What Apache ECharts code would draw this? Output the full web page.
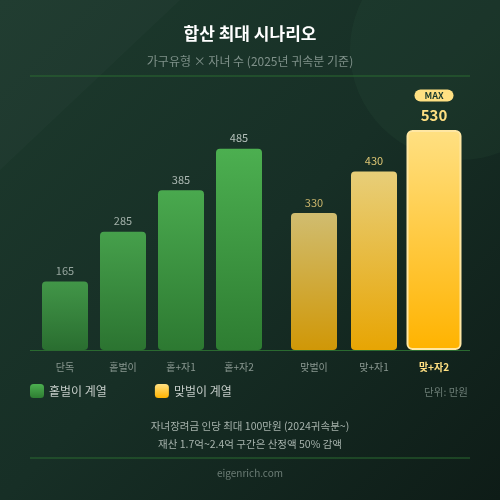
<!DOCTYPE html>
<html><head><meta charset="utf-8">
<script src="https://cdn.jsdelivr.net/npm/echarts@6/dist/echarts.min.js"></script>
<style>html,body{margin:0;padding:0;background:#152b23}#c{width:500px;height:500px}</style>
</head><body><div id="c"></div>
<script>
const singleCats = ['단독', '홑벌이', '홑+자1', '홑+자2'];
const singleVals = [165, 285, 385, 485];
const dualCats = ['맞벌이', '맞+자1', '맞+자2'];
const dualVals = [330, 430, 530];
const singleOpacity = [0.8, 0.88, 0.95, 1];
const dualOpacity = [0.8, 0.9, 1];
const yMax = 600;

const FONT = '"Noto Sans CJK KR", "Noto Sans", sans-serif';
const greenGrad = new echarts.graphic.LinearGradient(0,0,0,1,[{offset:0,color:'#4caf50'},{offset:1,color:'#2e7d32'}]);
const goldGrad = new echarts.graphic.LinearGradient(0,0,0,1,[{offset:0,color:'#ffe082'},{offset:1,color:'#ffb300'}]);
const maxIdx = dualVals.indexOf(Math.max(...dualVals));

const chart = echarts.init(document.getElementById('c'), null, {renderer:'canvas'});
chart.setOption({
  backgroundColor: 'transparent',
  animation: false,
  textStyle: {fontFamily: FONT},
  graphic: [
    {type:'rect', z:-10, shape:{x:0,y:0,width:500,height:500},
      style:{fill:new echarts.graphic.LinearGradient(0,0,1,1,[{offset:0,color:'#1d3a2d'},{offset:0.5,color:'#172f26'},{offset:1,color:'#0e1c17'}])}},
    {type:'polygon', z:-9, shape:{points:[[0,0],[180,0],[0,170]]}, style:{fill:'rgba(255,255,255,0.02)'}},
    {type:'circle', z:-9, shape:{cx:460,cy:50,r:110}, style:{fill:'rgba(120,200,140,0.045)'}},
    {type:'line', shape:{x1:30,y1:76,x2:470,y2:76}, style:{stroke:'#2a6a30',lineWidth:1}},
    {type:'line', shape:{x1:30,y1:350.5,x2:470,y2:350.5}, style:{stroke:'#2a6a30',lineWidth:1}},
    {type:'line', shape:{x1:30,y1:458,x2:470,y2:458}, style:{stroke:'#2a6a30',lineWidth:1}},
    {type:'text', style:{x:250,y:34,text:'합산 최대 시나리오',fill:'#ffffff',font:'bold 17px '+FONT,textAlign:'center',textVerticalAlign:'middle'}},
    {type:'text', style:{x:250,y:61,text:'가구유형 × 자녀 수 (2025년 귀속분 기준)',fill:'#7f918a',font:'12px '+FONT,textAlign:'center',textVerticalAlign:'middle'}},
    {type:'text', style:{x:468,y:392,text:'단위: 만원',fill:'#6c7d76',font:'10.5px '+FONT,textAlign:'right',textVerticalAlign:'middle'}},
    {type:'text', style:{x:250,y:426,text:'자녀장려금 인당 최대 100만원 (2024귀속분~)',fill:'#a6b2ac',font:'10.5px '+FONT,textAlign:'center',textVerticalAlign:'middle'}},
    {type:'text', style:{x:250,y:444,text:'재산 1.7억~2.4억 구간은 산정액 50% 감액',fill:'#a6b2ac',font:'10.5px '+FONT,textAlign:'center',textVerticalAlign:'middle'}},
    {type:'text', style:{x:250,y:473,text:'eigenrich.com',fill:'#6c7d76',font:'10px '+FONT,textAlign:'center',textVerticalAlign:'middle'}}
  ],
  legend: {
    left: 30, top: 384, padding: 0, itemWidth: 14, itemHeight: 14, itemGap: 48, icon: 'roundRect',
    data: ['홑벌이 계열', '맞벌이 계열'],
    textStyle: {color:'#c3cbc7', fontSize: 12, fontFamily: FONT}
  },
  grid: [
    {left: 36, width: 232, top: 101, height: 249},
    {left: 284, width: 180, top: 101, height: 249}
  ],
  xAxis: [
    {type:'category', gridIndex:0, data: singleCats, axisLine:{show:false}, axisTick:{show:false},
      axisLabel:{color:'#8a9891', fontSize:10, margin:12, fontFamily:FONT}},
    {type:'category', gridIndex:1, data: dualCats.map((c,i)=> i===maxIdx ? {value:c, textStyle:{color:'#ffe082', fontWeight:'bold'}} : c),
      axisLine:{show:false}, axisTick:{show:false},
      axisLabel:{color:'#8a9891', fontSize:10, margin:12, fontFamily:FONT}},
    {type:'category', gridIndex:1, data: dualCats, show:false}
  ],
  yAxis: [
    {type:'value', gridIndex:0, min:0, max:yMax, show:false, splitLine:{show:false}},
    {type:'value', gridIndex:1, min:0, max:yMax, show:false, splitLine:{show:false}}
  ],
  series: [
    {name:'홑벌이 계열', type:'bar', xAxisIndex:0, yAxisIndex:0, barWidth:46,
      itemStyle:{color: greenGrad, borderRadius:4},
      data: singleVals.map((v,i)=>({value:v, itemStyle:{opacity:singleOpacity[i]}})),
      label:{show:true, position:'top', distance:5, color:'#b4c0ba', fontSize:11, fontFamily:FONT}},
    {name:'맞벌이 계열', type:'bar', xAxisIndex:1, yAxisIndex:1, barWidth:46,
      itemStyle:{color: goldGrad, borderRadius:4},
      data: dualVals.map((v,i)=> i===maxIdx ? '-' : {value:v, itemStyle:{opacity:dualOpacity[i]}}),
      label:{show:true, position:'top', distance:5, color:'#f2d57c', fontSize:11, fontFamily:FONT}},
    {name:'맞벌이 계열', type:'bar', xAxisIndex:2, yAxisIndex:1, barWidth:55,
      itemStyle:{color: goldGrad, borderRadius:5, borderColor:'#ffe7a3', borderWidth:2},
      data: dualVals.map((v,i)=> i===maxIdx ? v : '-'),
      label:{show:true, position:'top', distance:2,
        formatter: p => '{b|MAX}\n{v|' + p.value + '}',
        rich:{
          b:{backgroundColor:'#ffe082', color:'#1b3a2c', fontSize:9, fontWeight:'bold', padding:[2,10,1,10], borderRadius:7, lineHeight:13, fontFamily:FONT},
          v:{color:'#ffe082', fontSize:15, fontWeight:'bold', lineHeight:26, fontFamily:FONT}
        }}}
  ]
});
</script></body></html>
